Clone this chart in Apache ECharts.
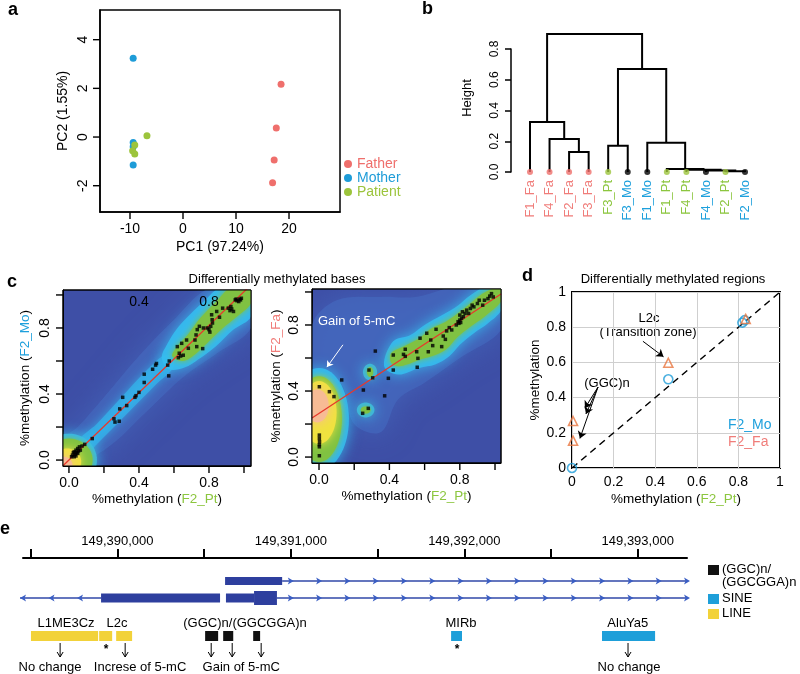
<!DOCTYPE html>
<html><head><meta charset="utf-8">
<script src="https://cdn.jsdelivr.net/npm/echarts@6.0.0/dist/echarts.min.js"></script>
<style>html,body{margin:0;padding:0;background:#fff}#chart{width:800px;height:674px}</style>
</head><body><div id="chart"></div>
<script>
const FONT = '"Liberation Sans", Arial, Helvetica, sans-serif';
const C_FA = '#ef6f6c', C_MO = '#1e9cd8', C_PT = '#9cc43c';
const LBL_FA = '#f07d7a', LBL_MO = '#1ea0dc', LBL_PT = '#8cc63f';

// ===== Panel a: PCA =====
const pcaFather  = [[18.5,2.17],[17.6,0.37],[17.2,-0.94],[16.9,-1.88]];
const pcaMother  = [[-9.4,3.24],[-9.4,-0.22],[-9.4,-0.40],[-9.4,-1.15]];
const pcaPatient = [[-6.8,0.05],[-9.1,-0.33],[-9.5,-0.56],[-9.1,-0.70]];
const pcaXTicks = [-10,0,10,20];
const pcaYTicks = [-2,0,2,4];

// ===== Panel b: dendrogram =====
const leaves = ['F1_Fa','F4_Fa','F2_Fa','F3_Fa','F3_Pt','F3_Mo','F1_Mo','F1_Pt','F4_Pt','F4_Mo','F2_Pt','F2_Mo'];
// hclust-style merges: negative = leaf (1-based in order), positive = earlier merge; third = height
const merges = [[-3,-4,0.13],[-2,1,0.215],[-1,2,0.325],[-11,-12,0.005],[-10,4,0.010],[-9,5,0.015],
                [-8,6,0.02],[-5,-6,0.17],[-7,7,0.19],[8,9,0.67],[3,10,0.897]];

// ===== Panel c: smooth scatter =====
const cTicks = [0,0.2,0.4,0.6,0.8,1.0];
const cLabels = [0,0.4,0.8];
const dmbMo = [
 [0.02,0.03],[0.025,0.045],[0.03,0.05],[0.035,0.035],[0.04,0.06],[0.045,0.045],[0.05,0.07],[0.055,0.055],
 [0.03,0.02],[0.06,0.08],[0.04,0.025],[0.05,0.04],[0.015,0.02],[0.065,0.06],[0.075,0.085],
 [0.09,0.095],[0.133,0.13],
 [0.257,0.25],[0.263,0.23],[0.287,0.235],[0.29,0.31],[0.307,0.38],[0.33,0.33],[0.377,0.38],[0.383,0.39],
 [0.40,0.41],[0.43,0.47],[0.43,0.52],[0.478,0.55],[0.495,0.575],[0.50,0.585],[0.564,0.575],[0.57,0.51],[0.573,0.60],
 [0.619,0.687],[0.63,0.647],[0.638,0.63],[0.653,0.635],[0.625,0.62],[0.644,0.707],[0.672,0.727],[0.682,0.677],
 [0.72,0.727],[0.726,0.758],[0.73,0.687],[0.733,0.79],[0.745,0.81],[0.764,0.675],[0.768,0.80],
 [0.79,0.80],[0.80,0.79],[0.81,0.81],[0.82,0.83],[0.805,0.775],[0.815,0.88],[0.818,0.85],[0.844,0.90],[0.86,0.865],[0.878,0.92],
 [0.91,0.92],[0.92,0.905],[0.93,0.915],[0.94,0.90],[0.925,0.93],[0.95,0.97],[0.955,0.975],[0.96,0.965],[0.975,0.975],[0.98,0.97],[0.985,0.98],[0.97,0.96]
];
const dmbFa = [
 [0.002,0.133],[0.002,0.113],[0.003,0.093],[0.002,0.075],[0.002,0.062],[0.002,0.008],[0.002,0.426],[0.059,0.396],[0.085,0.366],[0.129,0.467],
 [0.252,0.406],[0.248,0.265],[0.28,0.295],[0.284,0.527],[0.305,0.48],[0.32,0.642],[0.373,0.371],[0.394,0.477],[0.422,0.527],[0.422,0.618],
 [0.48,0.622],[0.49,0.653],[0.49,0.61],[0.555,0.638],[0.562,0.598],[0.558,0.544],[0.574,0.72],[0.612,0.75],[0.621,0.638],[0.635,0.709],
 [0.646,0.675],[0.665,0.774],[0.697,0.669],[0.706,0.733],[0.718,0.713],[0.725,0.764],[0.74,0.784],[0.754,0.77],
 [0.78,0.80],[0.79,0.82],[0.795,0.81],[0.80,0.83],[0.805,0.815],[0.81,0.84],[0.80,0.86],[0.815,0.88],[0.82,0.85],[0.83,0.87],
 [0.839,0.89],[0.85,0.87],[0.86,0.90],[0.87,0.92],[0.88,0.91],[0.90,0.93],[0.91,0.95],[0.93,0.92],[0.94,0.95],[0.96,0.96],[0.97,0.975],[0.99,0.97],[0.98,0.99]
];
const lmMo = [0.0, 1.02];   // intercept, slope
const lmFa = [0.264, 0.70];
// density zones (data units)
const moHaze  = [[-0.04,-0.04],[0.2,0.06],[0.45,0.3],[0.65,0.5],[0.85,0.65],[1.04,0.8],[1.04,1.04],[0.8,1.04],[0.6,0.85],[0.4,0.63],[0.2,0.38],[0.05,0.2],[-0.04,0.12]];
const moCyanLow = [[0.08,0.03],[0.2,0.14],[0.35,0.3],[0.5,0.46],[0.6,0.57],[0.56,0.64],[0.45,0.55],[0.3,0.38],[0.16,0.22],[0.05,0.11]];
const moCyan  = [[0.57,0.55],[0.66,0.56],[0.74,0.61],[0.84,0.69],[0.94,0.79],[1.04,0.87],[1.04,1.04],[0.86,1.04],[0.77,0.96],[0.69,0.88],[0.62,0.8],[0.56,0.7],[0.53,0.62]];
const moGreen = [[0.59,0.63],[0.62,0.69],[0.68,0.76],[0.75,0.86],[0.85,0.97],[0.92,1.04],[1.04,1.04],[1.04,0.95],[0.95,0.86],[0.88,0.8],[0.8,0.72],[0.72,0.64],[0.65,0.6]];
const moOrigin = [[0.0,0.0,0.16,0.16],[0.0,0.0,0.135,0.13],[-0.01,-0.01,0.08,0.08],[-0.03,-0.03,0.05,0.05]]; // cyan, green, yellow, peach
const faHaze  = [[-0.04,0.45],[0.12,0.45],[0.2,0.2],[0.35,0.15],[0.45,0.35],[0.6,0.45],[0.8,0.6],[1.04,0.78],[1.04,1.04],[0.8,1.04],[0.55,0.97],[0.35,0.97],[0.1,0.95],[-0.04,0.8]];
const faCyan  = [[0.37,0.55],[0.45,0.5],[0.57,0.54],[0.66,0.56],[0.74,0.61],[0.8,0.68],[0.88,0.75],[0.96,0.81],[1.04,0.9],[1.04,1.04],[0.96,1.04],[0.86,0.98],[0.78,0.91],[0.7,0.86],[0.6,0.8],[0.52,0.74],[0.42,0.7]];
const faGreen = [[0.41,0.57],[0.41,0.63],[0.48,0.67],[0.57,0.72],[0.64,0.78],[0.72,0.82],[0.80,0.88],[0.87,0.94],[0.93,0.99],[0.99,1.02],[1.04,1.02],[1.04,0.95],[0.94,0.85],[0.86,0.79],[0.79,0.73],[0.72,0.65],[0.64,0.61],[0.57,0.59],[0.50,0.56],[0.45,0.55]];
const faSmall = [[0.265,0.285,0.05,0.045],[0.29,0.515,0.04,0.05],[0.265,0.285,0.028,0.022],[0.29,0.515,0.018,0.03]]; // cyan, cyan, green, green
const faOrigin = [[0.0,0.23,0.17,0.31],[0.0,0.23,0.13,0.26],[0.0,0.27,0.10,0.19],[-0.01,0.31,0.065,0.10]]; // cyan, green, yellow, peach

// ===== Panel d: DMRs =====
const dmrMo = [[0,0],[0.463,0.504],[0.819,0.826],[0.83,0.84]];
const dmrFa = [[0.005,0.267],[0.005,0.155],[0.463,0.598],[0.835,0.847]];

// ===== Panel e: locus =====
const locusTicks = [149389500,149390000,149390500,149391000,149391500,149392000,149392500,149393000];
const locusLabels = [149390000,149391000,149392000,149393000];
const introns = [[0,149390950,149393284,1],[1,149389439,149389906,-1],[1,149390920,149393284,1]]; // row, start, end, strand
const exons = [[0,149390621,149390950,'utr'],[1,149389906,149390592,'utr'],[1,149390626,149390788,'utr'],[1,149390788,149390920,'cds']];
const repLINE = [[149389502,149389889],[149389895,149389970],[149389993,149390085]];
const repSINE = [[149391924,149391987],[149392794,149393100]];
const repSimple = [[149390506,149390581],[149390610,149390668],[149390783,149390823]];
const repNames = [['L1ME3Cz',149389704],['L2c',149389998],['(GGC)n/(GGCGGA)n',149390736],['MIRb',149391981],['AluYa5',149392943]];
const effectArrows = [149389670,149390045,149390541,149390662,149390829,149392944];
const effectNames = [['No change',149389612],['Increse of 5-mC',149390131],['Gain of 5-mC',149390714],['No change',149392950]];
const asterisks = [149389935,149391958];

// ---------- helpers ----------
function nodeInfo(){
  const nodes = [];
  const get = i => i < 0 ? {x:-i, h:0} : nodes[i-1];
  const segs = [];
  merges.forEach(([a,b,h]) => {
    const l = get(a), r = get(b);
    segs.push([[l.x,l.h],[l.x,h],[r.x,h],[r.x,r.h]]);
    nodes.push({x:(l.x+r.x)/2, h:h});
  });
  return segs;
}
const dendroSegs = nodeInfo();
const grpOf = n => n.endsWith('Fa') ? 'fa' : (n.endsWith('Pt') ? 'pt' : 'mo');

const ZCOL = {haze:['#4568bd',0.7,28], cyanlow:['#33b6ec',0.7,10], cyan:['#35bdef',0.88,14], green:['#80c242',1,6], yellow:['#f0e23f',1,10], peach:['#f7bb95',1,12]};
function zoneSeries(xi, yi, zones){
  return {type:'custom', xAxisIndex:xi, yAxisIndex:yi, clip:true, silent:true, z:1,
    data: zones.map(() => [0.5,0.5]),
    renderItem: (params, api) => {
      const z = zones[params.dataIndex];
      let pts;
      if (z.e) {
        pts = [];
        const [cx,cy,rx,ry] = z.e;
        for (let k=0;k<60;k++){ const a = 2*Math.PI*k/60; pts.push(api.coord([cx+rx*Math.cos(a), cy+ry*Math.sin(a)])); }
      } else pts = z.p.map(p => api.coord(p));
      const [c,o,b] = ZCOL[z.k];
      return {type:'polygon', shape:{points:pts, smooth: z.e ? 0 : 0.35},
        style:{fill:c, opacity:o, shadowBlur:b, shadowColor:c}};
    }};
}
const zonesMo = [{p:moHaze,k:'haze'},{p:moCyanLow,k:'cyanlow'},{p:moCyan,k:'cyan'},{e:moOrigin[0],k:'cyan'},{p:moGreen,k:'green'},
  {e:moOrigin[1],k:'green'},{e:moOrigin[2],k:'yellow'},{e:moOrigin[3],k:'peach'}];
const zonesFa = [{p:faHaze,k:'haze'},{p:faCyan,k:'cyan'},{e:faOrigin[0],k:'cyan'},{e:faSmall[0],k:'cyan'},{e:faSmall[1],k:'cyan'},
  {p:faGreen,k:'green'},{e:faSmall[2],k:'green'},{e:faSmall[3],k:'green'},
  {e:faOrigin[1],k:'green'},{e:faOrigin[2],k:'yellow'},{e:faOrigin[3],k:'peach'}];

const CMAXL = 1.04, CMAXR = 1.034;
function lmLine(lm, x0, x1){ return [[x0, lm[0]+lm[1]*x0],[x1, lm[0]+lm[1]*x1]]; }

// R-style outward tick marks: scatter rect symbols placed on the axis edges through the axes' scales
function tickScatter(xi, yi, xTicks, yTicks, xMin, yMin){
  return [
    {type:'scatter', xAxisIndex:xi, yAxisIndex:yi, clip:false, silent:true, z:30, symbol:'rect',
      symbolSize:[1.4,7], symbolOffset:[0,3.5], itemStyle:{color:'#000', opacity:1},
      data: xTicks.map(t=>[t, yMin])},
    {type:'scatter', xAxisIndex:xi, yAxisIndex:yi, clip:false, silent:true, z:30, symbol:'rect',
      symbolSize:[7,1.4], symbolOffset:[-3.5,0], itemStyle:{color:'#000', opacity:1},
      data: yTicks.map(t=>[xMin, t])}
  ];
}

const boxLine = (w) => ({show:true, onZero:false, lineStyle:{color:'#000', width:w}});
function rAxisX(grid, min, max, labels, fmt, w, extra){
  return Object.assign({type:'value', gridIndex:grid, min, max, splitLine:{show:false},
    axisLine:boxLine(w), axisTick:{show:false},
    axisLabel:{show:true, customValues:labels, formatter:fmt, fontSize:14, margin:10, color:'#000', fontFamily:FONT}}, extra||{});
}

const E_ROW = [23, 40];
const ROW_H = {utr:9, cds:14};

const option = {
  animation:false,
  textStyle:{fontFamily:FONT},
  grid:[
    {left:100, top:10, width:240, height:202, show:true, borderColor:'#000', borderWidth:1.5, backgroundColor:'rgba(0,0,0,0)'},
    {left:511, top:49, width:244, height:123},
    {left:63, top:290, width:188, height:176, show:true, borderColor:'#000', borderWidth:1, backgroundColor:'#3e4fa6'},
    {left:312, top:289, width:189, height:174, show:true, borderColor:'#000', borderWidth:1, backgroundColor:'#3e4fa6'},
    {left:572, top:292, width:208, height:176, show:true, borderColor:'#000', borderWidth:2, backgroundColor:'rgba(0,0,0,0)'},
    {left:23, top:558, width:664, height:110}
  ],
  xAxis:[
    rAxisX(0, -15.66, 29.62, pcaXTicks, v=>String(v), 1.5, {name:'PC1 (97.24%)', nameLocation:'middle', nameGap:28, nameTextStyle:{fontSize:14,color:'#000'}}),
    {type:'value', gridIndex:1, min:0.028, max:12.51, splitLine:{show:false}, axisLine:{show:false, onZero:false}, axisTick:{show:false},
      axisLabel:{customValues:leaves.map((n,i)=>i+1), rotate:90, margin:8, fontSize:13,
        formatter:v=>{const n=leaves[Math.round(v)-1]; return n ? '{'+grpOf(n)+'|'+n+'}' : '';},
        rich:{fa:{color:LBL_FA,fontSize:13,fontFamily:FONT}, pt:{color:LBL_PT,fontSize:13,fontFamily:FONT}, mo:{color:LBL_MO,fontSize:13,fontFamily:FONT}}}},
    rAxisX(2, -0.034, CMAXL, cLabels, v=>v.toFixed(1), 1, {name:'%methylation ({g|F2_Pt})', nameLocation:'middle', nameGap:26,
      nameTextStyle:{fontSize:13.5,color:'#000',rich:{g:{color:LBL_PT,fontSize:13.5,fontFamily:FONT}}}}),
    {type:'value', gridIndex:2, position:'top', z:20, min:-0.034, max:CMAXL, splitLine:{show:false}, axisLine:{show:false, onZero:false}, axisTick:{show:false},
      axisLabel:{inside:true, customValues:[0.4,0.8], formatter:v=>v.toFixed(1), fontSize:14, margin:5, color:'#000'}},
    rAxisX(3, -0.0398, CMAXR, cLabels, v=>v.toFixed(1), 1, {name:'%methylation ({g|F2_Pt})', nameLocation:'middle', nameGap:26,
      nameTextStyle:{fontSize:13.5,color:'#000',rich:{g:{color:LBL_PT,fontSize:13.5,fontFamily:FONT}}}}),
    {type:'value', gridIndex:4, min:0, max:1, interval:0.2, axisLine:{show:false, onZero:false}, axisTick:{show:false},
      splitLine:{show:true, lineStyle:{color:'#cfcfcf', width:1}},
      axisLabel:{fontSize:14, margin:7, color:'#000'},
      name:'%methylation ({g|F2_Pt})', nameLocation:'middle', nameGap:24,
      nameTextStyle:{fontSize:13.5,color:'#000',rich:{g:{color:LBL_PT,fontSize:13.5,fontFamily:FONT}}}},
    {type:'value', gridIndex:5, position:'top', min:149389456, max:149393284, splitLine:{show:false},
      axisLine:{show:true, onZero:false, lineStyle:{color:'#000', width:2}},
      axisTick:{show:true, length:9, customValues:locusTicks, lineStyle:{color:'#000', width:2}},
      axisLabel:{customValues:locusLabels, formatter:v=>Number(v).toLocaleString('en-US'), fontSize:13, margin:10, color:'#000'}}
  ],
  yAxis:[
    {type:'value', gridIndex:0, min:-3.08, max:5.22, splitLine:{show:false}, axisLine:boxLine(1.5), axisTick:{show:false},
      axisLabel:{customValues:pcaYTicks, rotate:90, fontSize:14, margin:10, color:'#000'},
      name:'PC2 (1.55%)', nameLocation:'middle', nameGap:30, nameRotate:90, nameTextStyle:{fontSize:14,color:'#000'}},
    {type:'value', gridIndex:1, min:0, max:0.8, interval:0.2, splitLine:{show:false},
      axisLine:{show:true, onZero:false, lineStyle:{color:'#000', width:1.5}},
      axisTick:{show:true, length:6, lineStyle:{color:'#000', width:1.5}},
      axisLabel:{rotate:90, fontSize:12, margin:10, color:'#000', formatter:v=>v.toFixed(1)}},
    {type:'value', gridIndex:2, min:-0.036, max:1.03, splitLine:{show:false}, axisLine:boxLine(1), axisTick:{show:false},
      axisLabel:{customValues:cLabels, formatter:v=>v.toFixed(1), rotate:90, fontSize:14, margin:11, color:'#000'},
      name:'%methylation ({m|F2_Mo})', nameLocation:'middle', nameGap:31, nameRotate:90,
      nameTextStyle:{fontSize:13.5,color:'#000',rich:{m:{color:LBL_MO,fontSize:13.5,fontFamily:FONT}}}},
    {type:'value', gridIndex:3, min:-0.036, max:1.018, splitLine:{show:false}, axisLine:boxLine(1), axisTick:{show:false},
      axisLabel:{customValues:cLabels, formatter:v=>v.toFixed(1), rotate:90, fontSize:14, margin:11, color:'#000'},
      name:'%methylation ({f|F2_Fa})', nameLocation:'middle', nameGap:29, nameRotate:90,
      nameTextStyle:{fontSize:13.5,color:'#000',rich:{f:{color:LBL_FA,fontSize:13.5,fontFamily:FONT}}}},
    {type:'value', gridIndex:4, min:0, max:1, interval:0.2, axisLine:{show:false, onZero:false}, axisTick:{show:false},
      splitLine:{show:true, lineStyle:{color:'#cfcfcf', width:1}},
      axisLabel:{fontSize:14, margin:6, color:'#000'},
      name:'%methylation', nameLocation:'middle', nameGap:30, nameRotate:90, nameTextStyle:{fontSize:13.5,color:'#000'}},
    {type:'value', gridIndex:5, min:0, max:110, inverse:true, show:false}
  ],
  legend:{data:[{name:'Father',textStyle:{color:C_FA}},{name:'Mother',textStyle:{color:C_MO}},{name:'Patient',textStyle:{color:C_PT}}],
    orient:'vertical', left:339, top:152, itemWidth:8, itemHeight:8, itemGap:0, icon:'circle',
    textStyle:{fontSize:14, fontFamily:FONT}, selectedMode:false},
  series:[
    // a
    {name:'Father', type:'scatter', xAxisIndex:0, yAxisIndex:0, data:pcaFather, symbolSize:7, itemStyle:{color:C_FA, opacity:1}},
    {name:'Mother', type:'scatter', xAxisIndex:0, yAxisIndex:0, data:pcaMother, symbolSize:7, itemStyle:{color:C_MO, opacity:1}},
    {name:'Patient', type:'scatter', xAxisIndex:0, yAxisIndex:0, data:pcaPatient, symbolSize:7, itemStyle:{color:C_PT, opacity:1}},
    ...tickScatter(0, 0, pcaXTicks, pcaYTicks, -15.66, -3.08),
    // b
    {type:'custom', xAxisIndex:1, yAxisIndex:1, clip:false, silent:true, data:dendroSegs.map(()=>[1,0]),
      renderItem:(p,api)=>({type:'polyline', shape:{points:dendroSegs[p.dataIndex].map(q=>api.coord(q))},
        style:{stroke:'#000', lineWidth:2, fill:'none'}})},
    {type:'scatter', xAxisIndex:1, yAxisIndex:1, symbolSize:6, z:5, silent:true,
      data:leaves.map((n,i)=>({value:[i+1,0], itemStyle:{color:{fa:C_FA, pt:C_PT, mo:'#000'}[grpOf(n)]}}))},
    // c left
    zoneSeries(2,2,zonesMo),
    {type:'line', xAxisIndex:2, yAxisIndex:2, data:lmLine(lmMo,-0.034,CMAXL), showSymbol:false, clip:true, z:3,
      lineStyle:{color:'#e8382b', width:1.3}},
    {type:'scatter', xAxisIndex:2, yAxisIndex:2, data:dmbMo, symbol:'rect', symbolSize:3.5, z:4, itemStyle:{color:'#000'}},
    ...tickScatter(2, 2, cTicks, cTicks, -0.034, -0.036),
    // c right
    zoneSeries(4,3,zonesFa),
    {type:'line', xAxisIndex:4, yAxisIndex:3, data:lmLine(lmFa,-0.0398,CMAXR), showSymbol:false, clip:true, z:3,
      lineStyle:{color:'#e8382b', width:1.3},
      markLine:{silent:true, symbol:['none','arrow'], symbolSize:6, label:{show:false},
        lineStyle:{color:'#fff', width:1, type:'solid'},
        data:[[{coord:[0.136,0.68]},{coord:[0.045,0.545]}]]}},
    {type:'scatter', xAxisIndex:4, yAxisIndex:3, data:dmbFa, symbol:'rect', symbolSize:3.5, z:4, itemStyle:{color:'#000'}},
    ...tickScatter(4, 3, cTicks, cTicks, -0.0398, -0.036),
    // d
    {type:'line', xAxisIndex:5, yAxisIndex:4, data:[[0,0],[1,1]], showSymbol:false, z:2,
      lineStyle:{color:'#000', width:1.5, type:[7,5]},
      markLine:{silent:true, symbol:['none','arrow'], symbolSize:7, label:{show:false},
        lineStyle:{color:'#000', width:1, type:'solid'},
        data:[[{coord:[0.341,0.72]},{coord:[0.44,0.632]}],
              [{coord:[0.125,0.46]},{coord:[0.062,0.34]}],
              [{coord:[0.125,0.46]},{coord:[0.067,0.307]}],
              [{coord:[0.125,0.46]},{coord:[0.038,0.168]}]]}},
    {type:'scatter', xAxisIndex:5, yAxisIndex:4, data:dmrMo, symbol:'circle', symbolSize:9, z:4,
      itemStyle:{color:'rgba(0,0,0,0)', borderColor:C_MO, borderWidth:1.6}},
    {type:'scatter', xAxisIndex:5, yAxisIndex:4, data:dmrFa, symbol:'triangle', symbolSize:9, z:5,
      itemStyle:{color:'rgba(0,0,0,0)', borderColor:'#e8763f', borderWidth:1.6}},
    // e : introns with strand chevrons
    {type:'custom', xAxisIndex:6, yAxisIndex:5, clip:false, silent:true, data:introns.map(r=>[r[1],0]),
      renderItem:(p,api)=>{
        const [row,s,e,dir] = introns[p.dataIndex];
        const y = api.coord([s,E_ROW[row]])[1];
        const x1 = api.coord([s,0])[0], x2 = api.coord([e,0])[0];
        const ch = [{type:'line', shape:{x1,y1:y,x2,y2:y}, style:{stroke:'#3048a8', lineWidth:1.3}}];
        const chev = (x,d)=>({type:'polygon', shape:{points:[[x-3*d,y-3.5],[x+3*d,y],[x-3*d,y+3.5],[x-1.5*d,y]]}, style:{fill:'#3a5ec4'}});
        if (dir>0) for (let x=x2; x>x1+6; x-=28.3) ch.push(chev(x,1));
        if (dir<0) for (let x=x1+3; x<x2-6; x+=28.5) ch.push(chev(x,-1));
        return {type:'group', children:ch};
      }},
    {type:'custom', xAxisIndex:6, yAxisIndex:5, clip:false, silent:true, data:exons.map(r=>[r[1],0]),
      renderItem:(p,api)=>{
        const [row,s,e,kind] = exons[p.dataIndex];
        const a = api.coord([s,E_ROW[row]]), b = api.coord([e,E_ROW[row]]);
        const h = row===0 ? 8 : ROW_H[kind];
        return {type:'rect', shape:{x:a[0], y:a[1]-h/2, width:b[0]-a[0], height:h}, style:{fill:'#2e3f9e'}};
      }},
    ...[['LINE',repLINE,'#f2d23a'],['SINE',repSINE,'#1e9fd9'],['(GGC)n/(GGCGGA)n',repSimple,'#111']].map(([nm,arr,col])=>({
      name:nm, type:'custom', xAxisIndex:6, yAxisIndex:5, clip:false, silent:true, data:arr.map(r=>[r[0],0]),
      itemStyle:{color:col},
      renderItem:(p,api)=>{
        const [s,e] = arr[p.dataIndex];
        const a = api.coord([s,78]), b = api.coord([e,78]);
        return {type:'rect', shape:{x:a[0], y:a[1]-5, width:b[0]-a[0], height:10}, style:{fill:col}};
      }})),
    {type:'custom', xAxisIndex:6, yAxisIndex:5, clip:false, silent:true, data:repNames.map(r=>[r[1],0]),
      renderItem:(p,api)=>{
        const [t,x] = repNames[p.dataIndex]; const c = api.coord([x,65]);
        return {type:'text', x:c[0], y:c[1], style:{text:t, fill:'#000', font:'13px '+FONT, align:'center', verticalAlign:'middle'}};
      }},
    {type:'custom', xAxisIndex:6, yAxisIndex:5, clip:false, silent:true, data:effectArrows.map(v=>[v,0]),
      renderItem:(p,api)=>{
        const x = api.coord([effectArrows[p.dataIndex],0])[0];
        const y1 = api.coord([0,85])[1], y2 = api.coord([0,99])[1];
        return {type:'group', children:[
          {type:'line', shape:{x1:x,y1:y1,x2:x,y2:y2}, style:{stroke:'#000', lineWidth:1}},
          {type:'polyline', shape:{points:[[x-3,y2-5],[x,y2],[x+3,y2-5]]}, style:{stroke:'#000', lineWidth:1, fill:'none'}}]};
      }},
    {type:'custom', xAxisIndex:6, yAxisIndex:5, clip:false, silent:true, data:effectNames.map(r=>[r[1],0]),
      renderItem:(p,api)=>{
        const [t,x] = effectNames[p.dataIndex]; const c = api.coord([x,109]);
        return {type:'text', x:c[0], y:c[1], style:{text:t, fill:'#000', font:'13px '+FONT, align:'center', verticalAlign:'middle'}};
      }},
    {type:'custom', xAxisIndex:6, yAxisIndex:5, clip:false, silent:true, data:asterisks.map(v=>[v,0]),
      renderItem:(p,api)=>{
        const c = api.coord([asterisks[p.dataIndex],92]);
        return {type:'text', x:c[0], y:c[1], style:{text:'*', fill:'#000', font:'bold 12px '+FONT, align:'center', verticalAlign:'middle'}};
      }}
  ],
  graphic:[
    {type:'text', left:8, top:1, style:{text:'a', font:'bold 18px '+FONT, fill:'#000'}},
    {type:'text', left:422, top:0, style:{text:'b', font:'bold 18px '+FONT, fill:'#000'}},
    {type:'text', left:7, top:273, style:{text:'c', font:'bold 18px '+FONT, fill:'#000'}},
    {type:'text', left:522, top:267, style:{text:'d', font:'bold 18px '+FONT, fill:'#000'}},
    {type:'text', left:0, top:520, style:{text:'e', font:'bold 18px '+FONT, fill:'#000'}},
    {type:'text', x:467, y:98, rotation:Math.PI/2, style:{text:'Height', font:'13px '+FONT, fill:'#000', align:'center', verticalAlign:'middle'}},
    {type:'text', x:277, y:279, style:{text:'Differentially methylated bases', font:'13px '+FONT, fill:'#000', align:'center', verticalAlign:'middle'}},
    {type:'text', x:673, y:279, style:{text:'Differentially methylated regions', font:'13px '+FONT, fill:'#000', align:'center', verticalAlign:'middle'}},
    {type:'text', x:318, y:321, z:100, style:{text:'Gain of 5-mC', font:'13px '+FONT, fill:'#fff', align:'left', verticalAlign:'middle'}},
    {type:'text', x:649, y:318, style:{text:'L2c', font:'13px '+FONT, fill:'#000', align:'center', verticalAlign:'middle'}},
    {type:'text', x:648, y:332, style:{text:'(Transition zone)', font:'13px '+FONT, fill:'#000', align:'center', verticalAlign:'middle'}},
    {type:'text', x:607, y:383, style:{text:'(GGC)n', font:'13px '+FONT, fill:'#000', align:'center', verticalAlign:'middle'}},
    {type:'text', x:728, y:425, style:{text:'F2_Mo', font:'14px '+FONT, fill:LBL_MO, align:'left', verticalAlign:'middle'}},
    {type:'text', x:728, y:442, style:{text:'F2_Fa', font:'14px '+FONT, fill:LBL_FA, align:'left', verticalAlign:'middle'}},
    {type:'rect', shape:{x:708, y:565, width:11, height:10}, style:{fill:'#111'}},
    {type:'text', x:722, y:569, style:{text:'(GGC)n/', font:'13px '+FONT, fill:'#000', align:'left', verticalAlign:'middle'}},
    {type:'text', x:722, y:582, style:{text:'(GGCGGA)n', font:'13px '+FONT, fill:'#000', align:'left', verticalAlign:'middle'}},
    {type:'rect', shape:{x:708, y:594, width:11, height:10}, style:{fill:'#1e9fd9'}},
    {type:'text', x:722, y:598, style:{text:'SINE', font:'13px '+FONT, fill:'#000', align:'left', verticalAlign:'middle'}},
    {type:'rect', shape:{x:708, y:609, width:11, height:10}, style:{fill:'#f2d23a'}},
    {type:'text', x:722, y:613, style:{text:'LINE', font:'13px '+FONT, fill:'#000', align:'left', verticalAlign:'middle'}},
    {type:'rect', shape:{x:63, y:290, width:188, height:176}, style:{fill:'none', stroke:'#000', lineWidth:1}, z:90},
    {type:'rect', shape:{x:312, y:289, width:189, height:174}, style:{fill:'none', stroke:'#000', lineWidth:1}, z:90}
  ]
};
const chart = echarts.init(document.getElementById('chart'), null, {renderer:'canvas'});
chart.setOption(option);
</script></body></html>
